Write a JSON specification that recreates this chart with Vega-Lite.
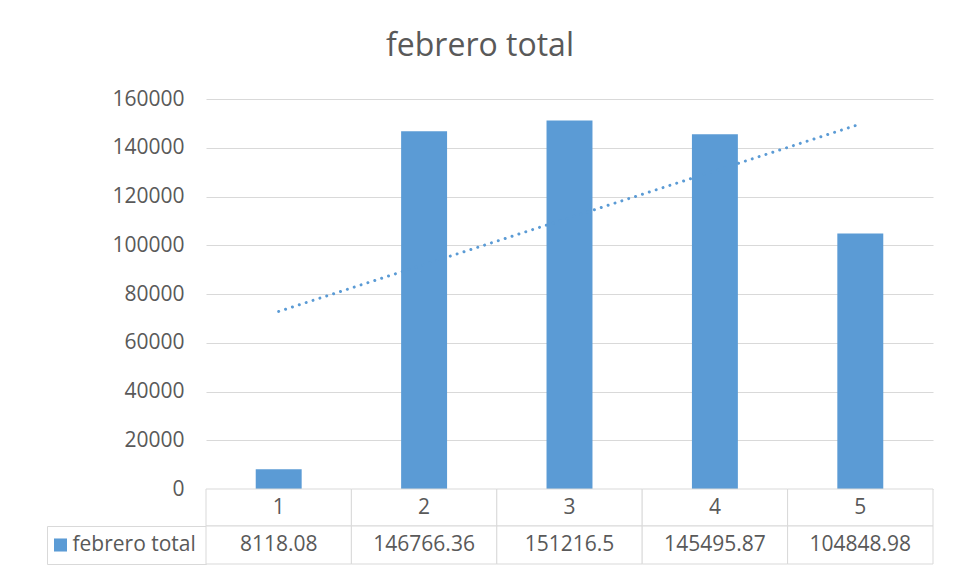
{
  "$schema": "https://vega.github.io/schema/vega-lite/v6.json",
  "background": "white",
  "padding": {"left": 46, "top": 30, "right": 30, "bottom": 12},
  "title": {
    "text": "febrero total",
    "font": "Open Sans",
    "fontSize": 32,
    "fontWeight": "normal",
    "color": "#595959",
    "anchor": "middle",
    "baseline": "alphabetic",
    "dx": -10,
    "offset": 0
  },
  "datasets": {
    "main": [
      {"cat": 1, "value": 8118.08, "series": "febrero total"},
      {"cat": 2, "value": 146766.36, "series": "febrero total"},
      {"cat": 3, "value": 151216.5, "series": "febrero total"},
      {"cat": 4, "value": 145495.87, "series": "febrero total"},
      {"cat": 5, "value": 104848.98, "series": "febrero total"}
    ]
  },
  "spacing": 0,
  "bounds": "flush",
  "vconcat": [
    {
      "width": 727,
      "height": 390,
      "data": {"name": "main"},
      "layer": [
        {
          "mark": {"type": "bar"},
          "encoding": {
            "x": {"field": "cat", "type": "ordinal", "scale": {"domain": [1, 2, 3, 4, 5], "paddingInner": 0.684, "paddingOuter": 0.342}, "axis": null},
            "y": {
              "field": "value", "type": "quantitative",
              "scale": {"domain": [0, 160000], "nice": false},
              "axis": {
                "values": [0, 20000, 40000, 60000, 80000, 100000, 120000, 140000, 160000],
                "format": "d", "title": null, "domain": false, "ticks": false,
                "grid": true, "gridColor": "#d9d9d9", "gridWidth": 1,
                "labelFont": "Open Sans", "labelFontSize": 21, "labelColor": "#595959", "labelPadding": 22
              }
            },
            "color": {
              "field": "series", "type": "nominal",
              "scale": {"range": ["#5b9bd5"]},
              "legend": {
                "orient": "none", "legendX": -156, "legendY": 435.5,
                "title": null, "symbolType": "square", "symbolSize": 170, "symbolStrokeWidth": 0,
                "labelFont": "Open Sans", "labelFontSize": 21, "labelColor": "#595959",
                "labelOffset": 1.5, "padding": 0
              }
            }
          }
        },
        {
          "transform": [{"regression": "value", "on": "cat"}],
          "mark": {"type": "line", "color": "#5b9bd5", "strokeWidth": 3, "strokeDash": [0.01, 7.2], "strokeCap": "round"},
          "encoding": {
            "x": {"field": "cat", "type": "ordinal"},
            "y": {"field": "value", "type": "quantitative"}
          }
        }
      ]
    },
    {
      "width": 727,
      "height": 37,
      "data": {"name": "main"},
      "layer": [
        {
          "mark": {"type": "rect", "fill": "white", "stroke": "#d9d9d9", "strokeWidth": 1},
          "encoding": {
            "x": {"field": "cat", "type": "ordinal", "scale": {"domain": [1, 2, 3, 4, 5], "paddingInner": 0, "paddingOuter": 0}, "axis": null},
            "y": {"datum": 0, "type": "quantitative", "scale": {"domain": [0, 1]}, "axis": null},
            "y2": {"datum": 1}
          }
        },
        {
          "mark": {"type": "text", "font": "Open Sans", "fontSize": 21, "color": "#595959"},
          "encoding": {
            "x": {"field": "cat", "type": "ordinal"},
            "y": {"datum": 0.5, "type": "quantitative"},
            "text": {"field": "cat", "type": "nominal"}
          }
        }
      ]
    },
    {
      "width": 727,
      "height": 38,
      "data": {"name": "main"},
      "layer": [
        {
          "mark": {"type": "rect", "fill": "white", "stroke": "#d9d9d9", "strokeWidth": 1},
          "encoding": {
            "x": {"field": "cat", "type": "ordinal", "scale": {"domain": [1, 2, 3, 4, 5], "paddingInner": 0, "paddingOuter": 0}, "axis": null},
            "y": {
              "datum": 0, "type": "quantitative", "scale": {"domain": [0, 1]},
              "axis": {"values": [0, 1], "tickSize": 159, "tickColor": "#d9d9d9", "tickWidth": 1, "labels": false, "domain": true, "domainColor": "#d9d9d9", "grid": false, "title": null}
            },
            "y2": {"datum": 1}
          }
        },
        {
          "mark": {"type": "text", "font": "Open Sans", "fontSize": 21, "color": "#595959"},
          "encoding": {
            "x": {"field": "cat", "type": "ordinal"},
            "y": {
              "datum": 0.5, "type": "quantitative", "scale": {"domain": [0, 1]},
              "axis": {"orient": "left", "offset": 159, "domain": true, "domainColor": "#d9d9d9", "ticks": false, "labels": false, "grid": false, "title": null}
            },
            "text": {"field": "value", "type": "nominal"}
          }
        }
      ],
      "resolve": {"scale": {"y": "independent"}, "axis": {"y": "independent"}}
    }
  ],
  "resolve": {"scale": {"x": "independent", "y": "independent", "color": "independent"}, "legend": {"color": "independent"}},
  "config": {"font": "Open Sans", "view": {"stroke": null}}
}
